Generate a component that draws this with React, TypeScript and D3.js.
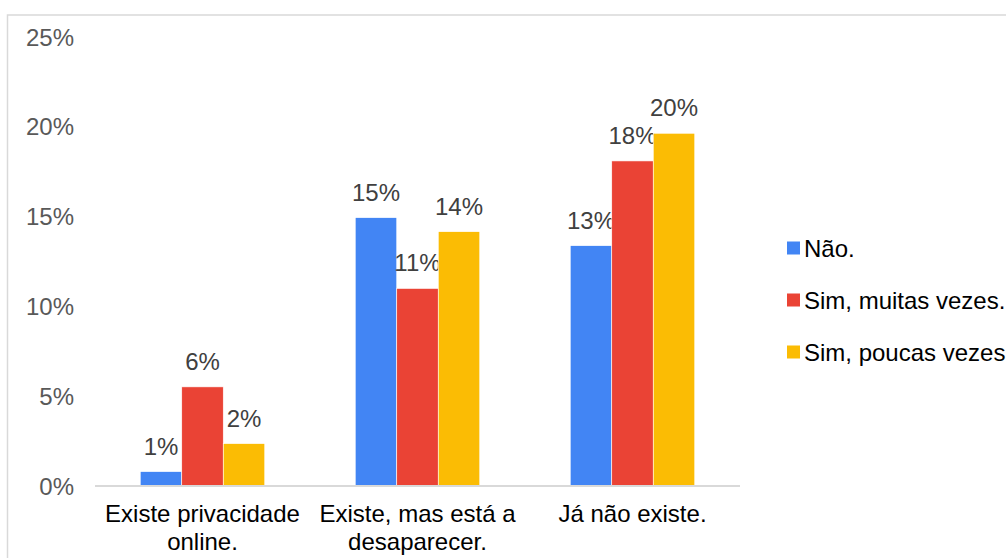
import React from "react";
import * as d3 from "d3";

const categories: string[][] = [
  ["Existe privacidade", "online."],
  ["Existe, mas está a", "desaparecer."],
  ["Já não existe."],
];
const seriesNames = ["Não.", "Sim, muitas vezes.", "Sim, poucas vezes."];
const seriesColors = ["#4285F4", "#EA4335", "#FBBC04"];
const naoValues = [0.8, 14.94, 13.38];
const muitasValues = [5.52, 11.0, 18.1];
const poucasValues = [2.36, 14.16, 19.64];
const yTicks = [0, 5, 10, 15, 20, 25];

const W = 1006;
const H = 558;
const FONT = "'Liberation Sans', Arial, Helvetica, sans-serif";

export default function App() {
  const series = [naoValues, muitasValues, poucasValues];
  const catKeys = categories.map((c) => c.join(" "));
  const y = d3.scaleLinear().domain([0, 25]).range([486, 37]);
  const x0 = d3.scaleBand<string>().domain(catKeys).range([95, 740]).padding(0);
  const x1 = d3
    .scaleBand<number>()
    .domain([0, 1, 2])
    .range([0, x0.bandwidth()])
    .paddingInner(0)
    .paddingOuter(1.09);

  const legendRows = [248, 300, 352];

  return (
    <svg
      width={W}
      height={H}
      style={{ position: "absolute", left: 0, top: 0, background: "#fff" }}
      fontFamily={FONT}
    >
      <rect x={0} y={0} width={W} height={H} fill="#fff" />
      <rect x={7.5} y={15} width={1060} height={600} fill="none" stroke="#d9d9d9" strokeWidth={1.5} />

      {yTicks.map((t) => (
        <text key={t} x={74} y={y(t) + 8.6} textAnchor="end" fontSize={24} fill="#595959">
          {t}%
        </text>
      ))}

      {catKeys.map((ck, ci) =>
        series.map((vals, si) => {
          const bx = (x0(ck) as number) + (x1(si) as number);
          const bw = x1.bandwidth();
          const v = vals[ci];
          return (
            <g key={ck + si}>
              <rect
                x={bx}
                y={y(v)}
                width={bw}
                height={y(0) - y(v)}
                fill={seriesColors[si]}
                stroke="#ffffff"
                strokeWidth={0.6}
              />
              <text
                x={bx + bw / 2}
                y={y(v) - 17}
                textAnchor="middle"
                fontSize={24}
                fill="#404040"
              >
                {Math.round(v)}%
              </text>
            </g>
          );
        })
      )}

      <line x1={95} x2={740} y1={486} y2={486} stroke="#d9d9d9" strokeWidth={2} />

      {categories.map((lines, ci) => {
        const cx = (x0(catKeys[ci]) as number) + x0.bandwidth() / 2;
        return (
          <text key={ci} textAnchor="middle" fontSize={24} fill="#000">
            {lines.map((l, li) => (
              <tspan key={li} x={cx} y={522 + li * 28}>
                {l}
              </tspan>
            ))}
          </text>
        );
      })}

      {seriesNames.map((name, si) => (
        <g key={name}>
          <rect x={787} y={legendRows[si] - 6.5} width={13} height={13} fill={seriesColors[si]} />
          <text x={804} y={legendRows[si] + 8.6} fontSize={24} fill="#000">
            {name}
          </text>
        </g>
      ))}
    </svg>
  );
}
